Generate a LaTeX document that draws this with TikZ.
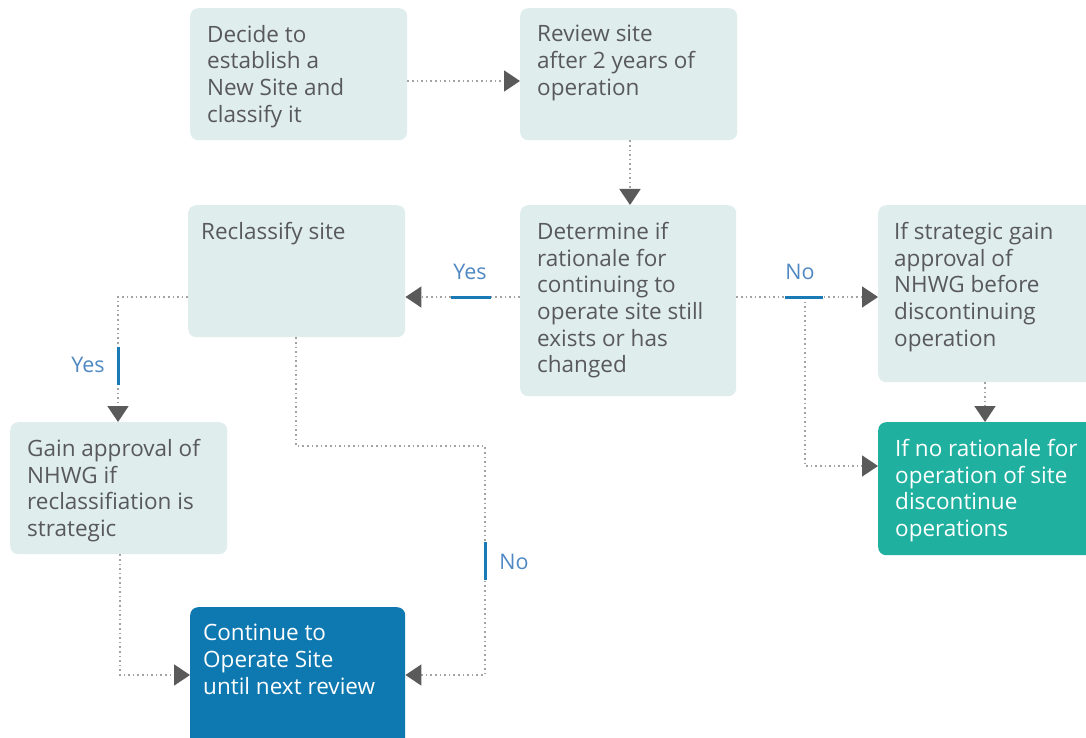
\documentclass[tikz,border=0pt]{standalone}
\usepackage{fontspec}
\setmainfont{Open Sans}
\usetikzlibrary{arrows.meta}
\definecolor{boxfill}{HTML}{E0EDED}
\definecolor{txtgray}{HTML}{58595B}
\definecolor{tealbox}{HTML}{20B0A0}
\definecolor{bluebox}{HTML}{0E78B0}
\definecolor{dotgray}{HTML}{A3A3A3}
\definecolor{arrgray}{HTML}{5A5A5A}
\definecolor{barblue}{HTML}{1A7AB5}
\definecolor{lblblue}{HTML}{4F88C2}
\tikzset{
  box/.style={rectangle, rounded corners=8pt, fill=boxfill, draw=none, inner sep=0pt, anchor=north west},
  txt/.style={anchor=north west, inner sep=0pt, align=left, text=txtgray, font=\fontsize{22.5}{26.7}\selectfont},
  conn/.style={draw=dotgray, line width=1.6pt, dash pattern=on 1.6pt off 3pt, -{Triangle[length=16pt,width=21pt,color=arrgray]}},
  plain/.style={draw=dotgray, line width=1.6pt, dash pattern=on 1.6pt off 3pt},
  bar/.style={draw=barblue, line width=3pt},
  lbl/.style={text=lblblue, font=\fontsize{21.5}{24}\selectfont, inner sep=0pt}
}
\begin{document}
\begin{tikzpicture}[x=1pt,y=-1pt]
\useasboundingbox (0,0) rectangle (1086,738);
% boxes
\node[box, minimum width=217pt, minimum height=132pt] (b1) at (190,8) {};
\node[box, minimum width=217pt, minimum height=132pt] (b2) at (520,8) {};
\node[box, minimum width=217pt, minimum height=132pt] (b3) at (188,205) {};
\node[box, minimum width=216pt, minimum height=191pt] (b4) at (520,205) {};
\node[box, minimum width=220pt, minimum height=177pt] (b5) at (878,205) {};
\node[box, minimum width=217pt, minimum height=132pt] (b6) at (10,422) {};
\node[box, fill=tealbox, minimum width=220pt, minimum height=133pt] (b7) at (878,422) {};
\node[box, fill=bluebox, minimum width=215pt, minimum height=145pt] (b8) at (190,607) {};
% texts
\node[txt] (t1) at ([shift={(17,17)}]b1.north west) {Decide to\\establish a\\New Site and\\classify it};
\node[txt] (t2) at ([shift={(17,17)}]b2.north west) {Review site\\after 2 years of\\operation};
\node[txt] (t3) at ([shift={(13,17)}]b3.north west) {Reclassify site};
\node[txt] (t4) at ([shift={(17,17)}]b4.north west) {Determine if\\rationale for\\continuing to\\operate site still\\exists or has\\changed};
\node[txt] (t5) at ([shift={(16,17)}]b5.north west) {If strategic gain\\approval of\\NHWG before\\discontinuing\\operation};
\node[txt] (t6) at ([shift={(17,17)}]b6.north west) {Gain approval of\\NHWG if\\reclassifiation is\\strategic};
\node[txt, text=white] (t7) at ([shift={(17,17)}]b7.north west) {If no rationale for\\operation of site\\discontinue\\operations};
\node[txt, text=white] (t8) at ([shift={(13,17)}]b8.north west) {Continue to\\Operate Site\\until next review};
% coordinates
\coordinate (yesbar) at (471,297);
\coordinate (nobar) at (805,297);
\coordinate (c1) at (118,297);
\coordinate (c2) at (296,446);
\coordinate (c3) at (485,446);
\coordinate (c4) at (485,675);
\coordinate (c5) at (805,466);
\coordinate (c6) at (120,675);
% connectors
\draw[conn] (b1.east |- 0,81) -- (b2.west |- 0,81);
\draw[conn] (b2.south -| 630,0) -- (b4.north -| 630,0);
\draw[conn] (b4.west |- yesbar) -- (b3.east |- yesbar);
\draw[conn] (b4.east |- nobar) -- (b5.west |- nobar);
\draw[conn] (nobar) -- (c5) -- (b7.west |- c5);
\draw[conn] (b5.south -| 985,0) -- (b7.north -| 985,0);
\draw[conn] (b3.west |- c1) -- (c1) -- (b6.north -| c1);
\draw[conn] (b3.south -| c2) -- (c2) -- (c3) -- (c4) -- (b8.east |- c4);
\draw[conn] (b6.south -| c6) -- (c6) -- (b8.west |- c6);
% labels and bars
\draw[bar] (451,297) -- (491,297);
\node[lbl] (ly1) at (470,272) {Yes};
\draw[bar] (785,297) -- (823,297);
\node[lbl] (ln1) at (800,272) {No};
\draw[bar] (118,347) -- (118,385);
\node[lbl] (ly2) at (88,365) {Yes};
\draw[bar] (485,542) -- (485,580);
\node[lbl] (ln2) at (514,562) {No};
\end{tikzpicture}
\end{document}
